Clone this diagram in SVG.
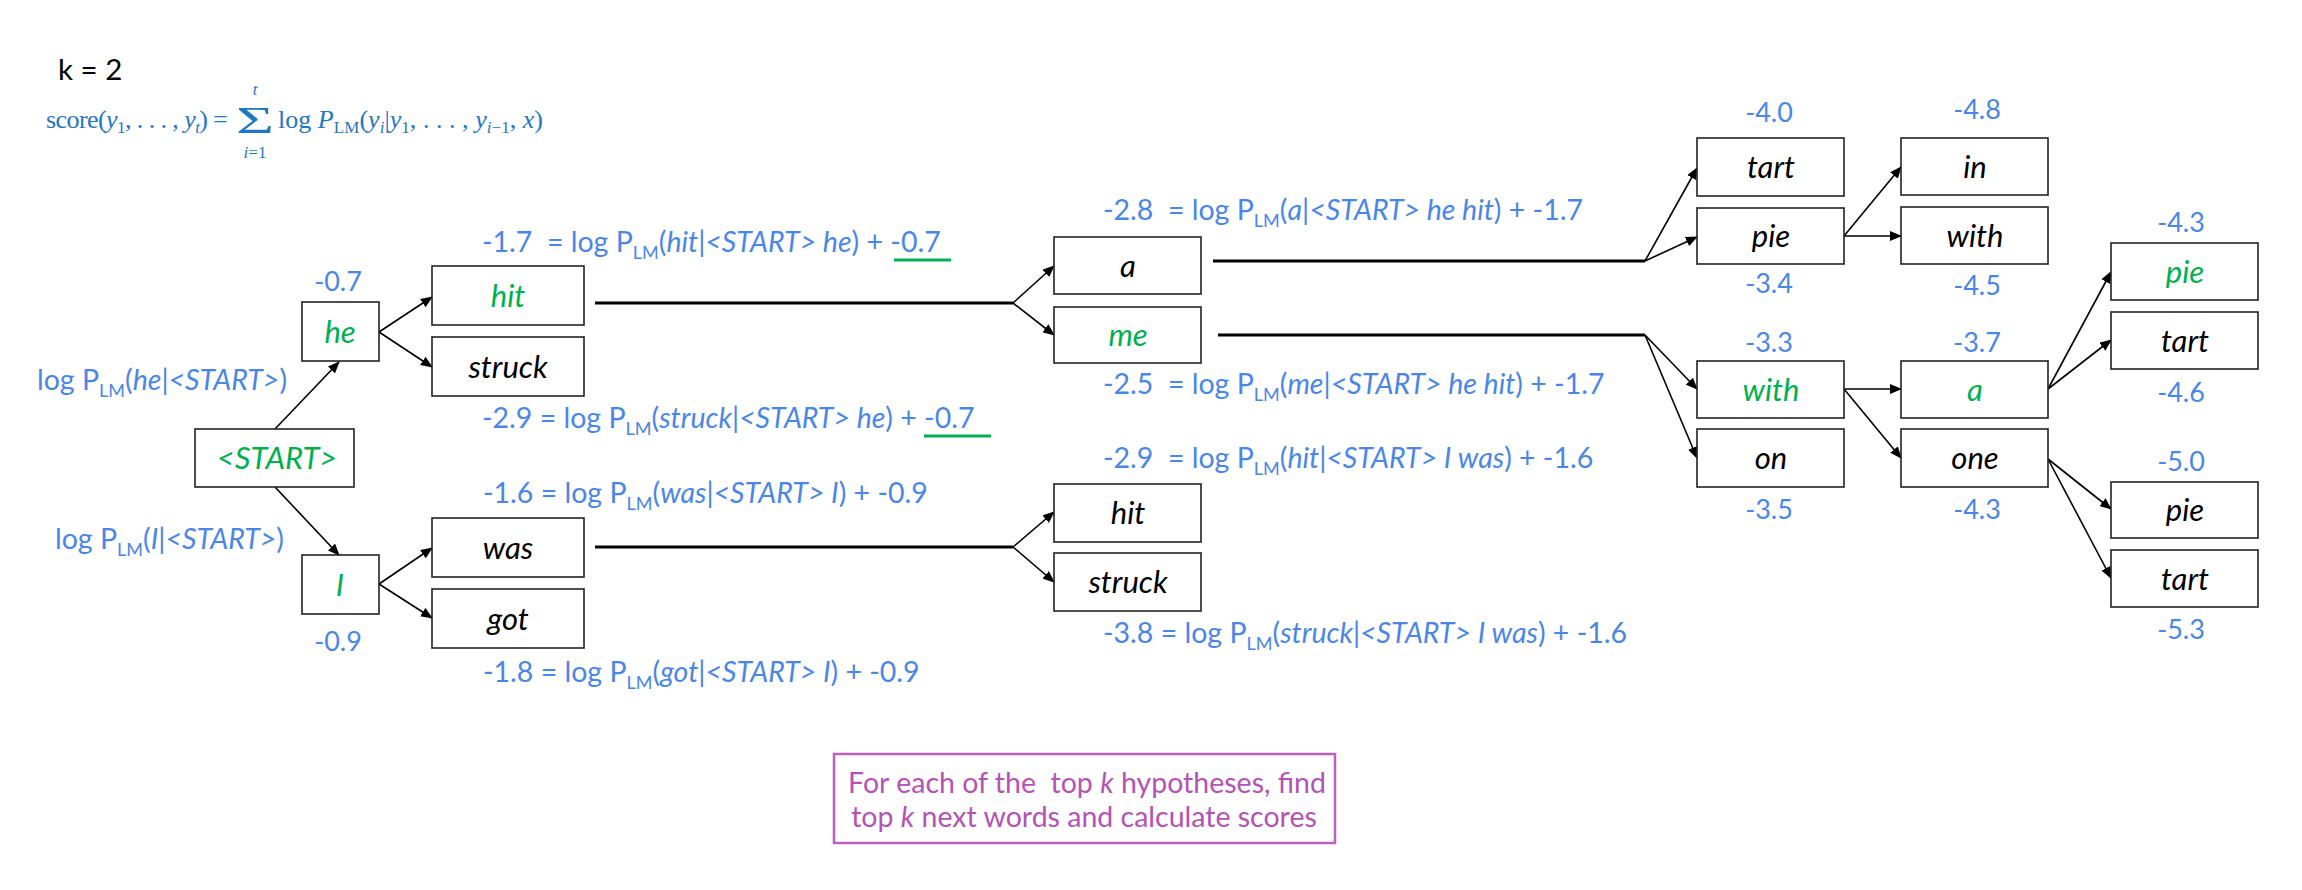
<svg xmlns="http://www.w3.org/2000/svg" width="2302" height="890" viewBox="0 0 2302 890">
<style>
  text { font-family: Lato, "Liberation Sans", sans-serif; }
  .box { fill: #fff; stroke: #222; stroke-width: 1.6; }
  .w { font-size: 31px; font-style: italic; text-anchor: middle; fill: #000; }
  .g { fill: #00B050; }
  .lbl { font-size: 28.5px; fill: #4A86E8; }
  .num { font-size: 27px; fill: #4A86E8; text-anchor: middle; }
  .sub { font-size: 18px; }
  .it { font-style: italic; }
  .thin { stroke: #000; stroke-width: 1.6; fill: none; marker-end: url(#ah); }
  .thick { stroke: #000; stroke-width: 3; fill: none; }
  .ul { stroke: #00B050; stroke-width: 3; }
  .f { font-family: "Liberation Serif", "DejaVu Serif", serif; font-size: 26px; fill: #1F77C4; }
  .fi { font-style: italic; }
  .fs { font-size: 17px; }
  .note { font-size: 28.5px; fill: #B552B6; text-anchor: middle; }
</style>
<defs>
  <marker id="ah" markerWidth="12" markerHeight="10" refX="11" refY="5" orient="auto" markerUnits="userSpaceOnUse">
    <path d="M0,0 L12,5 L0,10 z" fill="#000"/>
  </marker>
</defs>

<text x="58" y="80" style="font-size:29.5px" fill="#000">k = 2</text>
<g id="formula">
  <text class="f" x="46" y="128" textLength="162">score(<tspan class="fi">y</tspan><tspan class="fs" dy="5">1</tspan><tspan dy="-5">, . . . , </tspan><tspan class="fi">y</tspan><tspan class="fs fi" dy="5">t</tspan><tspan dy="-5">)</tspan></text>
  <text class="f" x="213" y="128">=</text>
  <text class="f" x="236" y="133" style="font-size:38px" textLength="38" lengthAdjust="spacingAndGlyphs">Σ</text>
  <text class="f fi fs" x="255" y="95" text-anchor="middle">t</text>
  <text class="f fs" x="255" y="158" text-anchor="middle"><tspan class="fi">i</tspan>=1</text>
  <text class="f" x="278" y="128" textLength="265">log <tspan class="fi">P</tspan><tspan class="fs" dy="5">LM</tspan><tspan dy="-5">(</tspan><tspan class="fi">y</tspan><tspan class="fs fi" dy="5">i</tspan><tspan dy="-5">|</tspan><tspan class="fi">y</tspan><tspan class="fs" dy="5">1</tspan><tspan dy="-5">, . . . , </tspan><tspan class="fi">y</tspan><tspan class="fs" dy="5"><tspan class="fi">i</tspan>−1</tspan><tspan dy="-5">, </tspan><tspan class="fi">x</tspan>)</text>
</g>

<g id="connectors">
  <line class="thin" x1="275" y1="429" x2="339" y2="362"/>
  <line class="thin" x1="275" y1="487" x2="339" y2="555"/>
  <line class="thin" x1="379" y1="332" x2="432" y2="297"/>
  <line class="thin" x1="379" y1="332" x2="432" y2="367"/>
  <line class="thin" x1="379" y1="584" x2="432" y2="548"/>
  <line class="thin" x1="379" y1="584" x2="432" y2="618"/>
  <line class="thick" x1="595" y1="303" x2="1013" y2="303"/>
  <line class="thin" x1="1013" y1="303" x2="1054" y2="266"/>
  <line class="thin" x1="1013" y1="303" x2="1054" y2="335"/>
  <line class="thick" x1="595" y1="547" x2="1013" y2="547"/>
  <line class="thin" x1="1013" y1="547" x2="1054" y2="512"/>
  <line class="thin" x1="1013" y1="547" x2="1054" y2="582"/>
  <line class="thick" x1="1213" y1="261" x2="1645" y2="261"/>
  <line class="thin" x1="1645" y1="261" x2="1697" y2="168"/>
  <line class="thin" x1="1645" y1="261" x2="1697" y2="237"/>
  <line class="thick" x1="1218" y1="335" x2="1645" y2="335"/>
  <line class="thin" x1="1645" y1="335" x2="1697" y2="389"/>
  <line class="thin" x1="1645" y1="335" x2="1697" y2="458"/>
  <line class="thin" x1="1844" y1="236" x2="1901" y2="167"/>
  <line class="thin" x1="1844" y1="236" x2="1901" y2="236"/>
  <line class="thin" x1="1844" y1="389" x2="1901" y2="389"/>
  <line class="thin" x1="1844" y1="389" x2="1901" y2="458"/>
  <line class="thin" x1="2048" y1="389" x2="2111" y2="272"/>
  <line class="thin" x1="2048" y1="389" x2="2111" y2="340"/>
  <line class="thin" x1="2048" y1="459" x2="2111" y2="509"/>
  <line class="thin" x1="2048" y1="459" x2="2111" y2="578"/>
</g>

<g id="n-start"><rect class="box" x="195" y="429" width="159" height="58"/><text class="w g" x="277" y="469">&lt;START&gt;</text></g>
<g id="n-he"><rect class="box" x="302" y="302" width="77" height="59"/><text class="w g" x="340" y="343">he</text></g>
<g id="n-i"><rect class="box" x="302" y="555" width="77" height="59"/><text class="w g" x="340" y="596">I</text></g>
<g id="n-hit"><rect class="box" x="432" y="266" width="152" height="59"/><text class="w g" x="508" y="307">hit</text></g>
<g id="n-struck"><rect class="box" x="432" y="337" width="152" height="59"/><text class="w" x="508" y="378">struck</text></g>
<g id="n-was"><rect class="box" x="432" y="518" width="152" height="59"/><text class="w" x="508" y="559">was</text></g>
<g id="n-got"><rect class="box" x="432" y="589" width="152" height="59"/><text class="w" x="508" y="630">got</text></g>
<g id="n-a"><rect class="box" x="1054" y="237" width="147" height="57"/><text class="w" x="1128" y="277">a</text></g>
<g id="n-me"><rect class="box" x="1054" y="307" width="147" height="56"/><text class="w g" x="1128" y="346">me</text></g>
<g id="n-hit2"><rect class="box" x="1054" y="484" width="147" height="58"/><text class="w" x="1128" y="524">hit</text></g>
<g id="n-struck2"><rect class="box" x="1054" y="553" width="147" height="58"/><text class="w" x="1128" y="593">struck</text></g>
<g id="n-tart1"><rect class="box" x="1697" y="138" width="147" height="58"/><text class="w" x="1771" y="178">tart</text></g>
<g id="n-pie1"><rect class="box" x="1697" y="208" width="147" height="56"/><text class="w" x="1771" y="247">pie</text></g>
<g id="n-in"><rect class="box" x="1901" y="138" width="147" height="57"/><text class="w" x="1975" y="178">in</text></g>
<g id="n-with1"><rect class="box" x="1901" y="207" width="147" height="57"/><text class="w" x="1975" y="247">with</text></g>
<g id="n-with2"><rect class="box" x="1697" y="361" width="147" height="57"/><text class="w g" x="1771" y="401">with</text></g>
<g id="n-on"><rect class="box" x="1697" y="429" width="147" height="58"/><text class="w" x="1771" y="469">on</text></g>
<g id="n-a2"><rect class="box" x="1901" y="361" width="147" height="57"/><text class="w g" x="1975" y="401">a</text></g>
<g id="n-one"><rect class="box" x="1901" y="429" width="147" height="58"/><text class="w" x="1975" y="469">one</text></g>
<g id="n-pie2"><rect class="box" x="2111" y="243" width="147" height="57"/><text class="w g" x="2185" y="283">pie</text></g>
<g id="n-tart2"><rect class="box" x="2111" y="312" width="147" height="57"/><text class="w" x="2185" y="352">tart</text></g>
<g id="n-pie3"><rect class="box" x="2111" y="482" width="147" height="56"/><text class="w" x="2185" y="521">pie</text></g>
<g id="n-tart3"><rect class="box" x="2111" y="550" width="147" height="57"/><text class="w" x="2185" y="590">tart</text></g>

<g id="labels">
  <text class="lbl" x="37" y="390">log P<tspan class="sub" dy="7">LM</tspan><tspan dy="-7">(</tspan><tspan class="it">he</tspan>|<tspan class="it">&lt;START&gt;</tspan>)</text>
  <text class="lbl" x="55" y="549">log P<tspan class="sub" dy="7">LM</tspan><tspan dy="-7">(</tspan><tspan class="it">I</tspan>|<tspan class="it">&lt;START&gt;</tspan>)</text>
  <text class="num" x="338" y="291">-0.7</text>
  <text class="num" x="338" y="651">-0.9</text>
  <text class="lbl" x="482" y="252" xml:space="preserve">-1.7  = log P<tspan class="sub" dy="7">LM</tspan><tspan dy="-7">(</tspan><tspan class="it">hit</tspan>|<tspan class="it">&lt;START&gt; he</tspan>) + -0.7</text>
  <line class="ul" x1="894" y1="260" x2="951" y2="260"/>
  <text class="lbl" x="482" y="428">-2.9 = log P<tspan class="sub" dy="7">LM</tspan><tspan dy="-7">(</tspan><tspan class="it">struck</tspan>|<tspan class="it">&lt;START&gt; he</tspan>) + -0.7</text>
  <line class="ul" x1="924" y1="436" x2="991" y2="436"/>
  <text class="lbl" x="483" y="503">-1.6 = log P<tspan class="sub" dy="7">LM</tspan><tspan dy="-7">(</tspan><tspan class="it">was</tspan>|<tspan class="it">&lt;START&gt; I</tspan>) + -0.9</text>
  <text class="lbl" x="483" y="682">-1.8 = log P<tspan class="sub" dy="7">LM</tspan><tspan dy="-7">(</tspan><tspan class="it">got</tspan>|<tspan class="it">&lt;START&gt; I</tspan>) + -0.9</text>
  <text class="lbl" x="1103" y="220" xml:space="preserve">-2.8  = log P<tspan class="sub" dy="7">LM</tspan><tspan dy="-7">(</tspan><tspan class="it">a</tspan>|<tspan class="it">&lt;START&gt; he hit</tspan>) + -1.7</text>
  <text class="lbl" x="1103" y="394" xml:space="preserve">-2.5  = log P<tspan class="sub" dy="7">LM</tspan><tspan dy="-7">(</tspan><tspan class="it">me</tspan>|<tspan class="it">&lt;START&gt; he hit</tspan>) + -1.7</text>
  <text class="lbl" x="1103" y="468" xml:space="preserve">-2.9  = log P<tspan class="sub" dy="7">LM</tspan><tspan dy="-7">(</tspan><tspan class="it">hit</tspan>|<tspan class="it">&lt;START&gt; I was</tspan>) + -1.6</text>
  <text class="lbl" x="1103" y="643">-3.8 = log P<tspan class="sub" dy="7">LM</tspan><tspan dy="-7">(</tspan><tspan class="it">struck</tspan>|<tspan class="it">&lt;START&gt; I was</tspan>) + -1.6</text>
  <text class="num" x="1769" y="122">-4.0</text>
  <text class="num" x="1977" y="119">-4.8</text>
  <text class="num" x="1769" y="293">-3.4</text>
  <text class="num" x="1977" y="295">-4.5</text>
  <text class="num" x="2181" y="232">-4.3</text>
  <text class="num" x="1769" y="352">-3.3</text>
  <text class="num" x="1977" y="352">-3.7</text>
  <text class="num" x="2181" y="402">-4.6</text>
  <text class="num" x="2181" y="471">-5.0</text>
  <text class="num" x="1769" y="519">-3.5</text>
  <text class="num" x="1977" y="519">-4.3</text>
  <text class="num" x="2181" y="639">-5.3</text>
</g>

<g id="note">
  <rect x="834" y="754" width="501" height="89" fill="#fff" stroke="#BF5FC0" stroke-width="2.5"/>
  <text class="note" x="1087" y="793" xml:space="preserve">For each of the  top <tspan class="it">k</tspan> hypotheses, find</text>
  <text class="note" x="1084" y="827">top <tspan class="it">k</tspan> next words and calculate scores</text>
</g>
</svg>
